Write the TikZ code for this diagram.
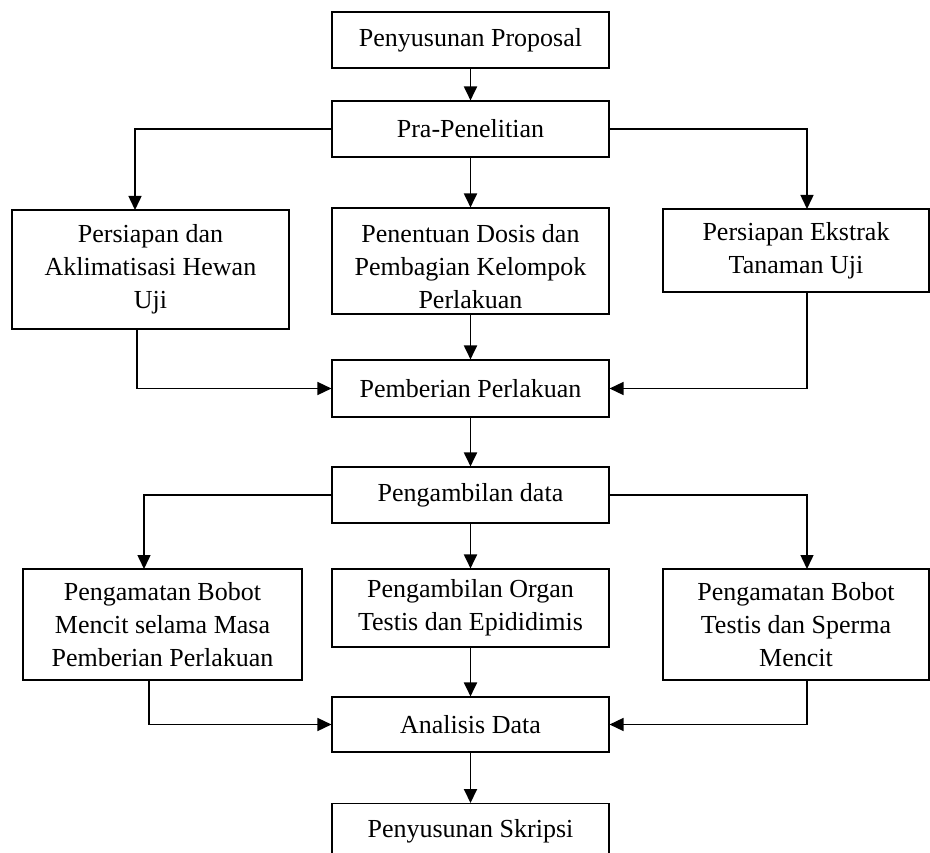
\documentclass[tikz,border=0pt]{standalone}
\usepackage{fontspec}
\setmainfont{Liberation Serif}
\usetikzlibrary{arrows.meta}
\begin{document}
\begin{tikzpicture}[x=1pt,y=-1pt,
  box/.style={draw=black,line width=1.1pt,rectangle,inner sep=0pt,align=center,
    font=\fontsize{26}{33}\selectfont,text=black},
  conn/.style={line width=1.9pt,-{Triangle[length=14pt,width=13pt]}},
  elbow/.style={line width=1.5pt,-{Triangle[length=14pt,width=13pt]}},
  ]
\useasboundingbox (0,0) rectangle (930,853);
\clip (0,0) rectangle (930,853);
\fill[white] (0,0) rectangle (930,853);

\node[box,minimum width=277pt,minimum height=56pt] (b1) at (470.5,40) {Penyusunan Proposal};
\node[box,minimum width=277pt,minimum height=56pt] (b2) at (470.5,129) {Pra-Penelitian};
\node[box,minimum width=277pt,minimum height=119pt] (l1) at (150.5,269.5) {Persiapan dan\\Aklimatisasi Hewan\\Uji};
\node[box,minimum width=277pt,minimum height=106pt] (m1) at (470.5,261) {\rule{0pt}{30pt}Penentuan Dosis dan\\Pembagian Kelompok\\Perlakuan};
\node[box,minimum width=266pt,minimum height=83pt] (r1) at (796,250.5) {Persiapan Ekstrak\\Tanaman Uji};
\node[box,minimum width=277pt,minimum height=57pt] (b3) at (470.5,388.5) {Pemberian Perlakuan};
\node[box,minimum width=277pt,minimum height=56pt] (b4) at (470.5,495) {Pengambilan data};
\node[box,minimum width=279pt,minimum height=111pt] (l2) at (162.5,624.5) {Pengamatan Bobot\\Mencit selama Masa\\Pemberian Perlakuan};
\node[box,minimum width=277pt,minimum height=78pt] (m2) at (470.5,608) {Pengambilan Organ\\Testis dan Epididimis};
\node[box,minimum width=266pt,minimum height=111pt] (r2) at (796,624.5) {Pengamatan Bobot\\Testis dan Sperma\\Mencit};
\node[box,minimum width=277pt,minimum height=55pt] (b5) at (470.5,724.5) {Analisis Data};
\node[box,minimum width=277pt,minimum height=56pt,anchor=north] (b6) at (470.5,803) {Penyusunan Skripsi};

\coordinate (l1in) at (135,210);
\coordinate (r1in) at (807,209);
\coordinate (l1out) at (137,329);
\coordinate (r1out) at (807,292);
\coordinate (l2in) at (144,569);
\coordinate (r2in) at (807,569);
\coordinate (l2out) at (149,680);
\coordinate (r2out) at (807,680);

\draw[conn] (b1.south) -- (b2.north);
\draw[elbow] (b2.west) -| (l1in);
\draw[conn] (b2.south) -- (m1.north);
\draw[elbow] (b2.east) -| (r1in);
\draw[elbow] (l1out) |- (b3.west);
\draw[conn] (m1.south) -- (b3.north);
\draw[elbow] (r1out) |- (b3.east);
\draw[conn] (b3.south) -- (b4.north);
\draw[elbow] (b4.west) -| (l2in);
\draw[conn] (b4.south) -- (m2.north);
\draw[elbow] (b4.east) -| (r2in);
\draw[elbow] (l2out) |- (b5.west);
\draw[conn] (m2.south) -- (b5.north);
\draw[elbow] (r2out) |- (b5.east);
\draw[conn] (b5.south) -- (b6.north);
\end{tikzpicture}
\end{document}
